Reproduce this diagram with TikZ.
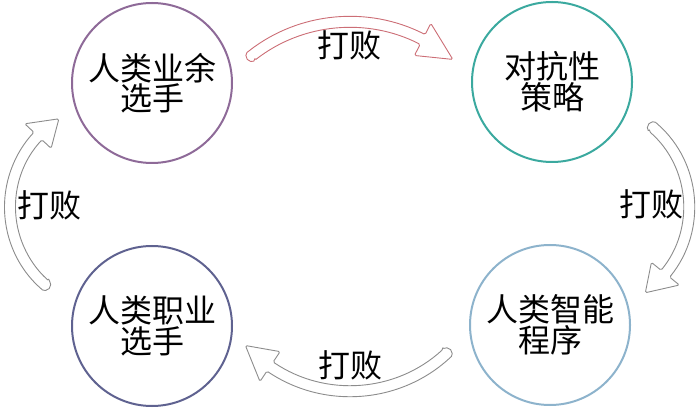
\documentclass[tikz,border=0pt]{standalone}
\usepackage{fontspec}
\newfontfamily\cjk{Noto Sans CJK SC}
\usepackage{xcolor}
\usepackage{tikz}
\usetikzlibrary{positioning}

\definecolor{amateurc}{RGB}{142,106,152}
\definecolor{strategyc}{RGB}{59,169,159}
\definecolor{programc}{RGB}{141,179,204}
\definecolor{proc}{RGB}{95,98,144}
\definecolor{beatred}{RGB}{204,110,118}
\definecolor{beatgray}{RGB}{140,140,140}

\begin{document}
\begin{tikzpicture}[
						x=1pt, y=1pt,
						player/.style={
							circle, draw=#1, line width=2pt,
							minimum size=160pt, inner sep=0pt,
							align=center,
							font=\cjk\fontsize{32}{29}\selectfont
						},
						beat_text/.style={
							font=\cjk\fontsize{32}{32}\selectfont
						},
						band/.style={
							draw=#1, line width=0.9pt, fill=white,
							rounded corners=1.5pt
						}
						]
						\useasboundingbox (0,0) rectangle (700,412);
						
						% === VÒNG TRÒN ===
						\node[player=amateurc] (amateur) at (152,329) {人类业余\\选手};
						\node[player=strategyc] (strategy) at (552,330) {对抗性\\策略};
						\node[player=programc] (program) at (550,87) {人类智能\\程序};
						\node[player=proc] (pro) at (152,86) {人类职业\\选手};
						
						% === MŨI TÊN RỖNG ===
						% tâm x / tâm y / bán kính / góc đầu / góc chân mũi / góc đỉnh / màu
						\foreach \cx/\cy/\r/\a/\b/\t/\col [count=\i] in {
							350/230/160/128/63/50/beatred,
							583/205/106/48.7/-39/-54/beatgray,
							350/164/143/-47.5/-124/-137/beatgray,
							114/205/104/228.5/137/122/beatgray} {
							\coordinate (arc\i) at (\cx,\cy);
							\draw[band=\col, shift={(arc\i)}]
								(\a:{\r-5.5}) arc[start angle=\a+180, end angle=\a, radius=5.5]
								arc[start angle=\a, end angle=\b, radius=\r+5.5]
								-- (\b:{\r+18}) -- (\t:\r) -- (\b:{\r-18}) -- (\b:{\r-5.5})
								arc[start angle=\b, end angle=\a, radius=\r-5.5] -- cycle;
						}
						
						% Nhãn "打败"
						\node[beat_text] (beat1) at (349,367) {打败};
						\node[beat_text] (beat2) at (651,208) {打败};
						\node[beat_text] (beat3) at (350,47) {打败};
						\node[beat_text] (beat4) at (49,207) {打败};
						
					\end{tikzpicture}
\end{document}
